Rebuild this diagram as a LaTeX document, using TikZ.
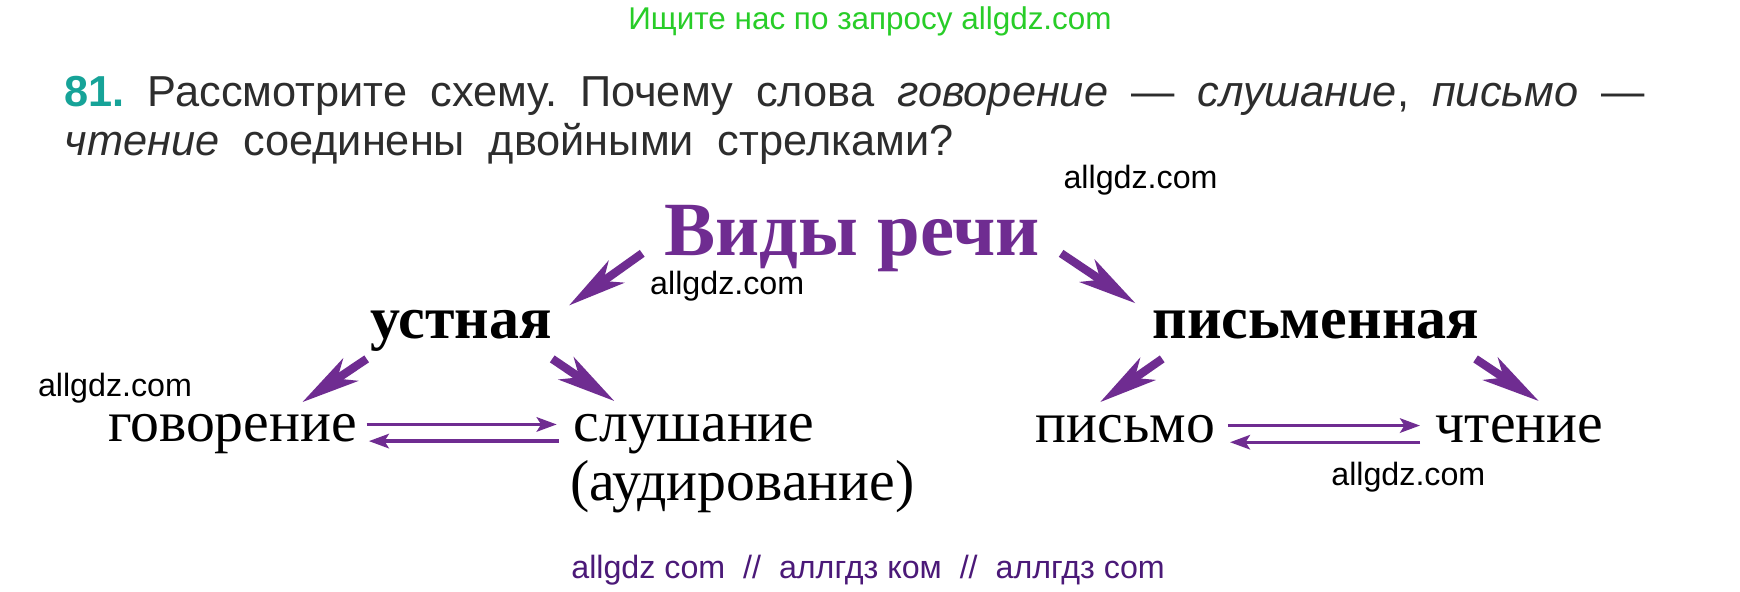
\documentclass[tikz,border=0pt]{standalone}
\usepackage{fontspec}
\setmainfont{Liberation Serif}
\newfontfamily\wsans{Liberation Sans}
\usetikzlibrary{arrows.meta}
\frenchspacing
\definecolor{vpurple}{RGB}{111,44,145}
\definecolor{vgreen}{RGB}{40,205,40}
\definecolor{vteal}{RGB}{22,163,152}
\definecolor{vtext}{RGB}{45,45,45}
\definecolor{vbottom}{RGB}{75,25,120}
\tikzset{
  big/.style={vpurple, line width=7.5pt, -{Stealth[length=52pt,width=24pt,inset=14pt]}},
  thin/.style={vpurple, line width=3pt, -{Stealth[length=18pt,width=13pt,inset=4pt]}},
  wm/.style={anchor=base west, inner sep=0pt, font=\wsans\fontsize{29}{31}\selectfont, text=black},
  bw/.style={anchor=base west, inner sep=0pt, font=\bfseries\fontsize{54}{60}\selectfont, text=black},
  rw/.style={anchor=base west, inner sep=0pt, font=\fontsize{52}{56}\selectfont, text=black},
  qt/.style={anchor=base west, inner sep=0pt, font=\wsans\fontsize{39}{42}\selectfont, text=vtext},
}
\begin{document}
\begin{tikzpicture}[x=1pt,y=-1pt]
\useasboundingbox (0,0) rectangle (1566,532);
\fill[white] (0,0) rectangle (1566,532);
% header
\node[anchor=base, inner sep=0pt, font=\wsans\fontsize{28.3}{30}\selectfont, text=vgreen] (hdr) at (783,27) {Ищите нас по запросу allgdz.com};
% question
\node[qt] (q1) at (58,96) {\makebox[1422pt][s]{\textcolor{vteal}{\bfseries 81.} Рассмотрите схему. Почему слова \textit{говорение} — \textit{слушание}, \textit{письмо} —}};
\node[qt] (q2) at (58,140) {\makebox[800pt][s]{\textit{чтение} соединены двойными стрелками?}};
% watermarks
\node[wm] (w1) at (957,170) {allgdz.com};
\node[wm] (w2) at (585,265) {allgdz.com};
\node[wm] (w3) at (34,357) {allgdz.com};
\node[wm] (w4) at (1198,437) {allgdz.com};
% title
\node[anchor=base, inner sep=0pt, font=\bfseries\fontsize{69}{74}\selectfont, text=vpurple] (vidy) at (767,230) {Виды речи};
% level 2
\node[bw] (ustn) at (333,305) {устная};
\node[bw] (pism) at (1037,305) {письменная};
% level 3
\node[rw] (gov) at (97,397) {говорение};
\node[rw] (slu) at (516,397) {слушание};
\node[rw] (aud) at (513,450) {(аудирование)};
\node[rw] (pis) at (932,398) {письмо};
\node[rw] (cht) at (1292,398) {чтение};
% bottom
\node[anchor=base west, inner sep=0pt, font=\wsans\fontsize{29}{31}\selectfont, text=vbottom] (bot) at (514,521) {allgdz com\ \ //\ \ аллгдз ком\ \ //\ \ аллгдз com};
% arrow end points
\coordinate (a1s) at (578,228); \coordinate (a1e) at (512,275);
\coordinate (a2s) at (955,228); \coordinate (a2e) at (1022,273);
\coordinate (a3s) at (330,323); \coordinate (a3e) at (272,362);
\coordinate (a4s) at (497,323); \coordinate (a4e) at (553,361);
\coordinate (a5s) at (1046,323); \coordinate (a5e) at (990,362);
\coordinate (a6s) at (1328,323); \coordinate (a6e) at (1385,361);
\draw[big] (a1s) -- (a1e);
\draw[big] (a2s) -- (a2e);
\draw[big] (a3s) -- (a3e);
\draw[big] (a4s) -- (a4e);
\draw[big] (a5s) -- (a5e);
\draw[big] (a6s) -- (a6e);
% double arrows
\coordinate (l1s) at (330,382); \coordinate (l1e) at (501,382);
\coordinate (l2s) at (503,397); \coordinate (l2e) at (332,397);
\coordinate (r1s) at (1105,383); \coordinate (r1e) at (1278,383);
\coordinate (r2s) at (1278,398); \coordinate (r2e) at (1107,398);
\draw[thin] (l1s) -- (l1e);
\draw[thin] (l2s) -- (l2e);
\draw[thin] (r1s) -- (r1e);
\draw[thin] (r2s) -- (r2e);
\end{tikzpicture}
\end{document}
